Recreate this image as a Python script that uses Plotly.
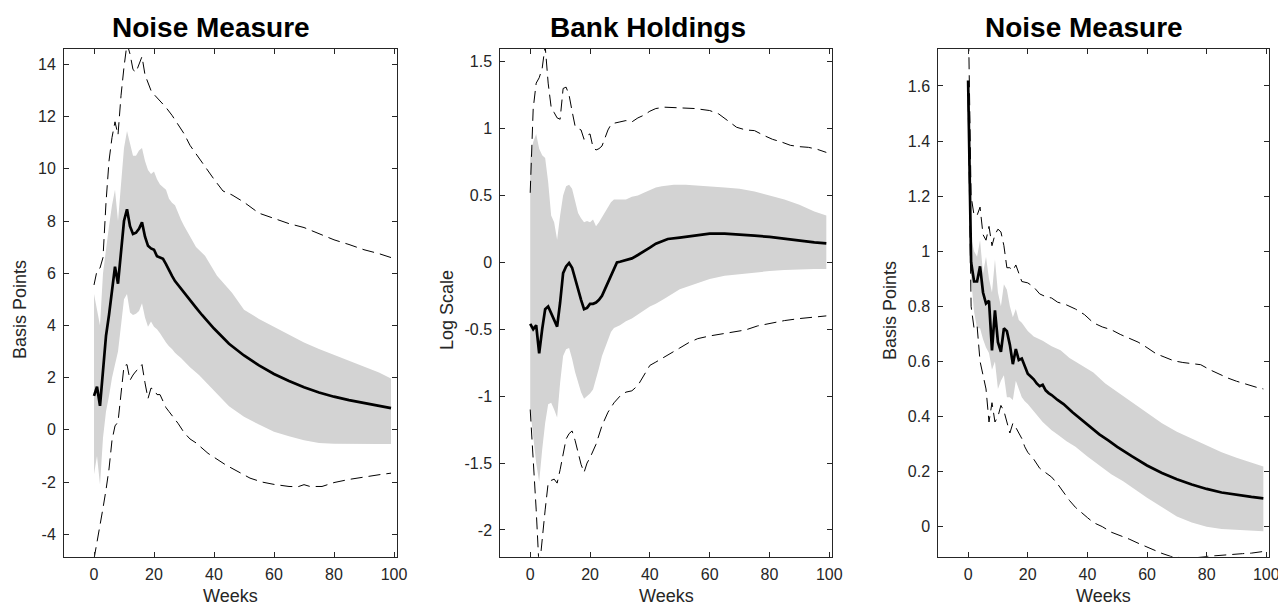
import plotly.graph_objects as go

# ---------------- Panel 1: Noise Measure (Basis Points) ----------------
p1_med_wk = [0,1,2,3,4,5,6,7,8,9,10,11,12,13,14,15,16,17,18,19,20,21,22,23,24,25,26,27,28,29,30,31,32,34,36,38,40,45,50,55,60,65,70,75,80,85,90,95,99]
p1_med = [1.3,1.65,0.92,2.2,3.6,4.4,5.3,6.25,5.6,6.8,8.0,8.45,7.8,7.5,7.55,7.7,7.95,7.4,7.05,6.95,6.9,6.65,6.6,6.55,6.35,6.1,5.9,5.7,5.55,5.4,5.27,5.1,4.95,4.68,4.4,4.13,3.88,3.3,2.85,2.47,2.14,1.87,1.63,1.43,1.27,1.14,1.02,0.91,0.83]

p1_hi_wk = [0,1,2,3,4,5,6,7,8,9,10,11,12,13,14,15,16,17,18,19,20,21,22,23,24,25,26,27,28,29,30,31,32,34,37,41,46,50,55,60,65,70,75,80,85,90,95,99]
p1_hi = [5.2,4.6,4.0,6.0,7.0,7.8,8.6,9.2,8.0,9.5,10.8,11.45,11.0,10.5,10.5,10.7,10.8,10.3,9.95,9.8,9.9,9.6,9.4,9.3,9.2,8.85,8.7,8.6,8.3,8.05,7.82,7.6,7.4,7.0,6.67,5.9,5.25,4.6,4.25,3.95,3.65,3.35,3.1,2.87,2.65,2.42,2.2,1.97]

p1_lo_wk = [0,1,2,3,4,5,6,7,8,9,10,11,12,13,14,15,16,17,18,19,20,21,22,23,24,25,26,27,28,29,30,32,35,40,45,50,55,60,65,70,75,80,85,90,95,99]
p1_lo = [-1.7,-1.0,-2.1,-0.3,0.7,1.3,2.0,2.5,3.0,4.0,5.0,5.2,4.5,4.4,4.45,4.55,4.85,4.3,3.95,4.15,3.95,3.85,3.7,3.55,3.35,3.2,3.1,2.95,2.85,2.75,2.65,2.4,2.1,1.5,0.9,0.5,0.2,-0.07,-0.25,-0.4,-0.5,-0.53,-0.54,-0.54,-0.54,-0.54]

p1_dhi_wk = [0,1,2,3,4,5,6,7,8,9,10,11,12,13,14,15,16,17,18,19,20,22,24,26,28,30,32,35,38,40,43,46,50,55,60,65,70,75,80,85,90,95,99]
p1_dhi = [5.55,6.1,6.2,6.6,8.7,10.3,11.2,11.8,11.3,12.8,13.9,14.8,14.4,13.8,13.7,14.0,14.3,13.6,13.3,13.0,12.85,12.6,12.35,12.05,11.7,11.35,10.9,10.4,9.95,9.6,9.15,9.0,8.72,8.3,8.1,7.9,7.75,7.5,7.28,7.1,6.9,6.75,6.6]

p1_dlo_wk = [0,1,2,3,4,5,6,7,8,9,10,11,12,13,14,15,16,17,18,19,20,21,22,23,24,25,26,27,28,30,32,34,36,38,40,44,48,52,56,60,65,68,70,72,76,80,85,90,95,99]
p1_dlo = [-4.95,-4.3,-3.8,-3.0,-2.3,-1.5,-0.4,0.15,0.3,1.3,2.45,2.5,1.9,2.1,2.25,2.35,2.5,1.8,1.2,1.6,1.55,1.35,1.35,1.1,0.85,0.7,0.55,0.4,0.25,-0.1,-0.35,-0.5,-0.7,-0.9,-1.05,-1.35,-1.6,-1.85,-2.0,-2.09,-2.17,-2.18,-2.1,-2.17,-2.17,-2.02,-1.9,-1.8,-1.72,-1.66]

# ---------------- Panel 2: Bank Holdings (Log Scale) ----------------
p2_med_wk = [0,1,2,3,4,5,6,7,8,9,10,11,12,13,14,15,16,17,18,19,20,21,22,23,24,25,26,27,28,29,30,31,32,33,34,36,38,40,42,44,46,50,55,60,65,70,75,80,85,90,95,99]
p2_med = [-0.46,-0.5,-0.47,-0.68,-0.5,-0.35,-0.33,-0.38,-0.43,-0.48,-0.3,-0.08,-0.03,-0.005,-0.04,-0.13,-0.2,-0.28,-0.35,-0.34,-0.31,-0.31,-0.3,-0.28,-0.25,-0.2,-0.15,-0.1,-0.05,0.0,0.005,0.01,0.02,0.025,0.03,0.055,0.08,0.11,0.14,0.16,0.175,0.185,0.2,0.215,0.215,0.21,0.2,0.19,0.175,0.16,0.15,0.142]

p2_hi_wk = [0,1,2,3,4,5,6,7,8,9,10,11,12,13,14,15,16,17,18,19,20,21,22,23,24,25,26,27,28,30,32,34,36,38,40,42,44,48,52,56,60,65,70,75,80,85,90,95,99]
p2_hi = [0.78,0.9,0.96,0.85,0.8,0.78,0.6,0.35,0.3,0.17,0.35,0.5,0.57,0.58,0.55,0.45,0.37,0.33,0.3,0.31,0.3,0.32,0.27,0.3,0.34,0.38,0.42,0.45,0.47,0.47,0.47,0.49,0.5,0.52,0.54,0.56,0.57,0.58,0.58,0.575,0.565,0.56,0.55,0.53,0.5,0.47,0.43,0.38,0.35]

p2_lo_wk = [0,1,2,3,4,5,6,7,8,9,10,11,12,13,14,15,16,17,18,19,20,21,22,23,24,25,26,27,28,30,32,34,36,38,40,42,45,50,55,60,65,70,75,80,85,90,95,99]
p2_lo = [-1.1,-1.3,-1.5,-1.64,-1.4,-1.2,-1.06,-1.05,-1.1,-1.16,-0.9,-0.7,-0.65,-0.64,-0.72,-0.82,-0.9,-0.97,-1.02,-1.0,-0.98,-0.95,-0.88,-0.79,-0.7,-0.64,-0.58,-0.52,-0.49,-0.47,-0.44,-0.42,-0.39,-0.36,-0.33,-0.31,-0.27,-0.2,-0.16,-0.125,-0.1,-0.085,-0.075,-0.065,-0.057,-0.053,-0.05,-0.05]

p2_dhi_wk = [0,1,2,3,4,5,6,7,8,9,10,11,12,13,14,15,16,17,18,19,20,21,22,23,24,25,26,27,28,30,32,34,36,38,40,42,45,50,55,60,63,66,69,72,75,78,81,84,87,90,93,96,99]
p2_dhi = [0.52,1.15,1.34,1.38,1.45,1.62,1.34,1.16,1.12,1.08,1.07,1.3,1.31,1.25,1.13,1.02,1.0,0.99,0.92,0.95,0.96,0.86,0.84,0.85,0.87,0.93,0.99,1.03,1.04,1.05,1.06,1.05,1.08,1.1,1.13,1.15,1.16,1.155,1.15,1.135,1.11,1.06,1.01,0.99,0.985,0.95,0.92,0.9,0.875,0.865,0.86,0.845,0.822]

p2_dlo_wk = [0,1,2,3,4,5,6,7,8,9,10,11,12,13,14,15,16,17,18,19,20,22,24,26,28,30,32,34,36,38,40,42,44,47,50,53,56,60,64,68,72,76,80,85,90,95,99]
p2_dlo = [-1.1,-1.45,-1.85,-2.3,-2.05,-1.85,-1.65,-1.63,-1.62,-1.65,-1.55,-1.42,-1.32,-1.28,-1.26,-1.33,-1.43,-1.51,-1.57,-1.5,-1.46,-1.36,-1.22,-1.12,-1.05,-1.0,-0.97,-0.96,-0.92,-0.85,-0.77,-0.745,-0.72,-0.68,-0.64,-0.6,-0.57,-0.55,-0.535,-0.52,-0.505,-0.475,-0.455,-0.435,-0.42,-0.41,-0.4]

# ---------------- Panel 3: Noise Measure (Basis Points) ----------------
p3_med_wk = [0,1,2,3,4,5,6,7,8,9,10,11,12,13,14,15,16,17,18,19,20,21,22,23,24,25,26,27,28,30,32,35,38,41,44,47,50,55,60,65,70,75,80,85,90,95,99]
p3_med = [1.62,0.96,0.89,0.89,0.945,0.85,0.81,0.82,0.64,0.785,0.67,0.635,0.72,0.71,0.66,0.59,0.645,0.605,0.61,0.58,0.555,0.545,0.535,0.52,0.51,0.515,0.495,0.485,0.478,0.46,0.445,0.415,0.388,0.36,0.335,0.313,0.29,0.255,0.222,0.195,0.172,0.153,0.137,0.124,0.115,0.108,0.103]

p3_hi_wk = [0,1,2,3,4,5,6,7,8,9,10,11,12,13,14,15,16,17,18,20,22,25,28,31,34,38,42,46,50,55,60,65,70,75,80,85,90,95,99]
p3_hi = [1.65,1.05,1.0,0.98,1.04,0.92,0.98,0.9,0.85,0.97,0.85,0.8,0.88,0.86,0.8,0.76,0.79,0.75,0.74,0.71,0.69,0.675,0.655,0.64,0.612,0.585,0.56,0.52,0.49,0.45,0.415,0.375,0.345,0.32,0.292,0.27,0.25,0.232,0.218]

p3_lo_wk = [0,1,2,3,4,5,6,7,8,9,10,11,12,13,14,15,16,17,18,19,20,22,25,28,30,33,36,40,44,48,52,56,60,65,70,75,80,85,90,95,99]
p3_lo = [1.58,0.9,0.78,0.72,0.72,0.68,0.65,0.63,0.57,0.6,0.5,0.53,0.55,0.47,0.47,0.46,0.53,0.5,0.47,0.455,0.445,0.42,0.38,0.35,0.335,0.31,0.29,0.255,0.222,0.19,0.165,0.135,0.105,0.07,0.037,0.015,0.0,-0.008,-0.012,-0.015,-0.017]

p3_dhi_wk = [0,1,2,3,4,5,6,7,8,9,10,11,12,13,14,15,16,17,18,20,22,24,26,28,30,33,36,39,42,45,48,51,54,57,60,63,66,69,72,75,78,81,84,87,90,94,97,99]
p3_dhi = [1.9,1.2,1.13,1.13,1.16,1.06,1.04,1.09,1.02,1.06,1.08,1.07,1.02,0.94,0.94,0.93,0.95,0.92,0.89,0.885,0.87,0.845,0.835,0.83,0.815,0.805,0.79,0.77,0.74,0.725,0.715,0.698,0.685,0.67,0.65,0.628,0.615,0.602,0.596,0.592,0.588,0.57,0.555,0.54,0.528,0.514,0.505,0.5]

p3_dlo_wk = [0,1,2,3,4,5,6,7,8,9,10,11,12,13,14,15,16,17,18,19,20,22,24,26,28,30,32,34,36,38,40,42,45,48,51,54,57,60,62,65,68,71,74,77,80,83,86,89,92,95,99]
p3_dlo = [1.55,0.8,0.72,0.73,0.6,0.55,0.5,0.38,0.45,0.38,0.4,0.44,0.42,0.38,0.34,0.375,0.36,0.34,0.32,0.29,0.27,0.245,0.212,0.196,0.18,0.155,0.125,0.095,0.07,0.05,0.033,0.015,0.0,-0.02,-0.032,-0.045,-0.06,-0.074,-0.083,-0.097,-0.108,-0.112,-0.113,-0.112,-0.108,-0.105,-0.102,-0.1,-0.098,-0.096,-0.09]

titles = ["Noise Measure", "Bank Holdings", "Noise Measure"]
ylabels = ["Basis Points", "Log Scale", "Basis Points"]
xlabel = "Weeks"

x_ticks = [0, 20, 40, 60, 80, 100]
p1_yticks = [-4, -2, 0, 2, 4, 6, 8, 10, 12, 14]
p1_yticklabels = ["-4", "-2", "0", "2", "4", "6", "8", "10", "12", "14"]
p2_yticks = [-2, -1.5, -1, -0.5, 0, 0.5, 1, 1.5]
p2_yticklabels = ["-2", "-1.5", "-1", "-0.5", "0", "0.5", "1", "1.5"]
p3_yticks = [0, 0.2, 0.4, 0.6, 0.8, 1.0, 1.2, 1.4, 1.6]
p3_yticklabels = ["0", "0.2", "0.4", "0.6", "0.8", "1", "1.2", "1.4", "1.6"]

panels = [
    dict(med_wk=p1_med_wk, med=p1_med, hi_wk=p1_hi_wk, hi=p1_hi, lo_wk=p1_lo_wk, lo=p1_lo,
         dhi_wk=p1_dhi_wk, dhi=p1_dhi, dlo_wk=p1_dlo_wk, dlo=p1_dlo,
         yr=[-4.86, 14.59], yt=p1_yticks, ytl=p1_yticklabels),
    dict(med_wk=p2_med_wk, med=p2_med, hi_wk=p2_hi_wk, hi=p2_hi, lo_wk=p2_lo_wk, lo=p2_lo,
         dhi_wk=p2_dhi_wk, dhi=p2_dhi, dlo_wk=p2_dlo_wk, dlo=p2_dlo,
         yr=[-2.2, 1.595], yt=p2_yticks, ytl=p2_yticklabels),
    dict(med_wk=p3_med_wk, med=p3_med, hi_wk=p3_hi_wk, hi=p3_hi, lo_wk=p3_lo_wk, lo=p3_lo,
         dhi_wk=p3_dhi_wk, dhi=p3_dhi, dlo_wk=p3_dlo_wk, dlo=p3_dlo,
         yr=[-0.109, 1.734], yt=p3_yticks, ytl=p3_yticklabels),
]

W, H = 1278, 607
x_doms = [(64, 397), (500.3, 832.3), (938.3, 1269.3)]
y_top, y_bot = 49, 556.7
title_cx = [211, 648, 1084]
ylabel_cx = [20, 447, 890]

FONT = "Liberation Sans, Arial, Helvetica, sans-serif"
AX = "#262626"

fig = go.Figure()
layout = dict(width=W, height=H, autosize=False, margin=dict(l=0, r=0, t=0, b=0, autoexpand=False),
              paper_bgcolor="white", plot_bgcolor="white", showlegend=False,
              font=dict(family=FONT, color=AX, size=16))
annotations = []

for i, p in enumerate(panels):
    sfx = "" if i == 0 else str(i + 1)
    xa, ya = "x" + sfx, "y" + sfx
    # shaded band
    bx = list(p["hi_wk"]) + list(reversed(p["lo_wk"]))
    by = list(p["hi"]) + list(reversed(p["lo"]))
    fig.add_trace(go.Scatter(x=bx, y=by, fill="toself", fillcolor="rgb(211,211,211)",
                             line=dict(width=0, color="rgba(0,0,0,0)"), mode="lines",
                             xaxis=xa, yaxis=ya, hoverinfo="skip"))
    # dashed bounds
    for k in ("dhi", "dlo"):
        fig.add_trace(go.Scatter(x=p[k + "_wk"], y=p[k], mode="lines",
                                 line=dict(color="black", width=1, dash="12px,6px"),
                                 xaxis=xa, yaxis=ya))
    # median
    fig.add_trace(go.Scatter(x=p["med_wk"], y=p["med"], mode="lines",
                             line=dict(color="black", width=2.7),
                             xaxis=xa, yaxis=ya))

    x0, x1 = x_doms[i]
    common = dict(showline=True, linecolor=AX, linewidth=1, mirror="ticks",
                  ticks="inside", ticklen=5, tickcolor=AX, tickwidth=1,
                  showgrid=False, zeroline=False, automargin=False,
                  tickfont=dict(family=FONT, size=16, color=AX))
    layout["xaxis" + sfx] = dict(common, domain=[x0 / W, x1 / W], range=[-10, 101],
                                 anchor=ya, tickvals=x_ticks, ticklabelstandoff=3,
                                 ticklabeloverflow="allow",
                                 ticktext=[str(v) for v in x_ticks])
    layout["yaxis" + sfx] = dict(common, domain=[1 - y_bot / H, 1 - y_top / H],
                                 range=p["yr"], anchor=xa, tickvals=p["yt"],
                                 ticklabelstandoff=4, ticktext=p["ytl"])
    annotations.append(dict(text="<b>" + titles[i] + "</b>", x=title_cx[i] / W, y=1 - 27 / H,
                            xref="paper", yref="paper", showarrow=False,
                            xanchor="center", yanchor="middle",
                            font=dict(family=FONT, size=28, color="black")))
    annotations.append(dict(text=xlabel, x=((x0 + x1) / 2) / W, y=1 - 596 / H,
                            xref="paper", yref="paper", showarrow=False,
                            xanchor="center", yanchor="middle",
                            font=dict(family=FONT, size=18, color=AX)))
    annotations.append(dict(text=ylabels[i], x=ylabel_cx[i] / W, y=1 - 310 / H,
                            xref="paper", yref="paper", showarrow=False, textangle=-90,
                            xanchor="center", yanchor="middle",
                            font=dict(family=FONT, size=18, color=AX)))

layout["annotations"] = annotations
fig.update_layout(**layout)
fig.write_html("out.html",
               config={"responsive": False, "displayModeBar": False, "staticPlot": True},
               post_script="document.body.style.margin='0px';document.body.style.overflow='hidden';")
